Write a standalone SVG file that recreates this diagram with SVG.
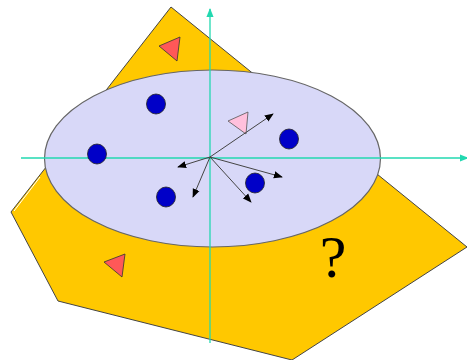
<svg xmlns="http://www.w3.org/2000/svg" width="467" height="360" viewBox="0 0 467 360">
<defs>
<style>
.plane{fill:#FFC800;stroke:#444;stroke-width:1}
.disk{fill:#D8D8F8;stroke:#666;stroke-width:1.2}
.axis{stroke:#22D8B0;stroke-width:1.3;fill:none}
.dot{fill:#0000C8;stroke:#222;stroke-width:0.8}
.red{fill:#FF5858;stroke:#333;stroke-width:0.8}
.pink{fill:#FFC0DC;stroke:#555;stroke-width:0.8}
.vec{stroke:#444;stroke-width:1;fill:none;marker-end:url(#ah)}
</style>
<marker id="ah" viewBox="0 0 10 10" refX="9" refY="5" markerWidth="9" markerHeight="9" markerUnits="userSpaceOnUse" orient="auto">
<path d="M0,1 L10,5 L0,9 Z" fill="#000"/>
</marker>
<marker id="ta" viewBox="0 0 10 10" refX="9" refY="5" markerWidth="9" markerHeight="9" markerUnits="userSpaceOnUse" orient="auto">
<path d="M0,1 L10,5 L0,9 Z" fill="#22D8B0"/>
</marker>
</defs>
<g id="plane">
<polygon class="plane" points="171,7 467,247 292,360 58,301 11,212"/>
<line x1="14" y1="211" x2="40" y2="177" stroke="#fff" stroke-width="1"/>
</g>
<g id="disk">
<ellipse class="disk" cx="212.5" cy="158.5" rx="168" ry="88.5"/>
</g>
<g id="axes">
<line class="axis" x1="210" y1="343" x2="210" y2="9" marker-end="url(#ta)"/>
<line class="axis" x1="21" y1="158" x2="468" y2="158" marker-end="url(#ta)"/>
</g>
<g id="dots">
<ellipse class="dot" cx="156" cy="104" rx="9.5" ry="10"/>
<ellipse class="dot" cx="97" cy="154" rx="9.5" ry="10"/>
<ellipse class="dot" cx="289" cy="139" rx="9.5" ry="10"/>
<ellipse class="dot" cx="255" cy="183" rx="9.5" ry="10"/>
<ellipse class="dot" cx="166" cy="197" rx="9.5" ry="10"/>
</g>
<g id="triangles">
<polygon class="red" points="159,46 180,37 177,61"/>
<polygon class="red" points="104,262 125,254 122,277"/>
<polygon class="pink" points="228,121 248,112 246,134"/>
</g>
<g id="connectors">
<line class="vec" x1="210" y1="157" x2="273" y2="114"/>
<line class="vec" x1="210" y1="157" x2="178" y2="167"/>
<line class="vec" x1="210" y1="157" x2="193" y2="197"/>
<line class="vec" x1="210" y1="157" x2="251" y2="202"/>
<line class="vec" x1="210" y1="157" x2="282" y2="177"/>
</g>
<g id="label">
<text x="333" y="277" font-family="'Liberation Serif', serif" font-size="60" text-anchor="middle" fill="#000">?</text>
</g>
</svg>
